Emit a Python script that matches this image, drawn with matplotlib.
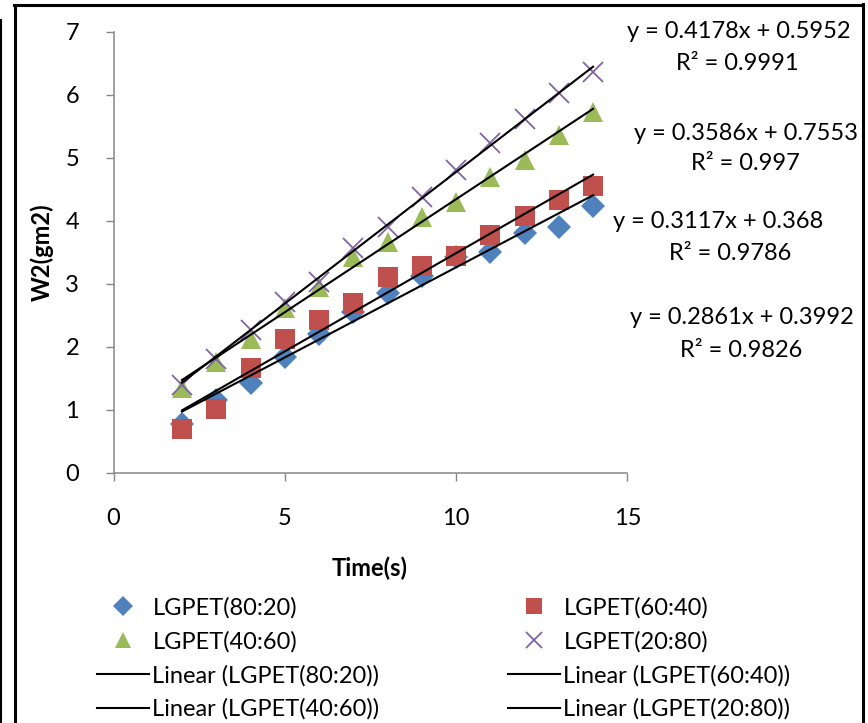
import numpy as np
import matplotlib
matplotlib.use("Agg")
import matplotlib.pyplot as plt
from matplotlib.lines import Line2D

plt.rcParams['font.family'] = ['Lato', 'DejaVu Sans']

# ---- data ----
time_s = [2, 3, 4, 5, 6, 7, 8, 9, 10, 11, 12, 13, 14]
lgpet_80_20 = [0.78, 1.15, 1.42, 1.84, 2.20, 2.55, 2.85, 3.13, 3.43, 3.50, 3.81, 3.90, 4.23]
lgpet_60_40 = [0.69, 1.02, 1.67, 2.13, 2.42, 2.69, 3.11, 3.28, 3.44, 3.77, 4.07, 4.33, 4.55]
lgpet_40_60 = [1.35, 1.76, 2.13, 2.61, 2.95, 3.43, 3.66, 4.06, 4.30, 4.70, 4.96, 5.36, 5.73]
lgpet_20_80 = [1.39, 1.81, 2.26, 2.71, 3.03, 3.56, 3.90, 4.38, 4.80, 5.23, 5.62, 6.02, 6.36]

series_names = ["LGPET(80:20)", "LGPET(60:40)", "LGPET(40:60)", "LGPET(20:80)"]
slopes = [0.2861, 0.3117, 0.3586, 0.4178]
intercepts = [0.3992, 0.368, 0.7553, 0.5952]
r_squared = ["0.9826", "0.9786", "0.997", "0.9991"]
x_ticks = [0, 5, 10, 15]
y_ticks = [0, 1, 2, 3, 4, 5, 6, 7]

W, H = 868, 723
fig = plt.figure(figsize=(W / 100, H / 100), dpi=100)

def fx(px):
    return px / W

def fy(py):
    return 1 - py / H

ax_l, ax_r, ax_t, ax_b = 113.5, 627.3, 31.7, 472.8
ax = fig.add_axes([fx(ax_l), fy(ax_b), fx(ax_r) - fx(ax_l), fy(ax_t) - fy(ax_b)])
ax.set_xlim(0, 15)
ax.set_ylim(0, 7)
ax.set_xticks(x_ticks)
ax.set_yticks(y_ticks)
for s in ['top', 'right']:
    ax.spines[s].set_visible(False)
gray = '#878787'
for s in ['left', 'bottom']:
    ax.spines[s].set_color(gray)
    ax.spines[s].set_linewidth(1.1)
ax.tick_params(axis='both', colors=gray, length=5.8, width=1.0, labelsize=17, labelcolor='black')
ax.tick_params(axis='y', pad=19)
ax.tick_params(axis='x', pad=19.5)

colors = ['#4F81BD', '#C0504D', '#9BBB59', '#8064A2']
markers = ['D', 's', '^', 'x']
msizes = [12.5, 14, 14, 14.5]
data = [lgpet_80_20, lgpet_60_40, lgpet_40_60, lgpet_20_80]

handles_pts = []
for name, y, c, m, ms in zip(series_names, data, colors, markers, msizes):
    if m == 'x':
        h, = ax.plot(time_s, y, linestyle='none', marker=m, markersize=ms, color=c,
                     markeredgewidth=1.3, clip_on=False, label=name, zorder=3)
    else:
        h, = ax.plot(time_s, y, linestyle='none', marker=m, markersize=ms, color=c,
                     markeredgewidth=0, clip_on=False, label=name, zorder=3)
    handles_pts.append(h)

handles_lin = []
xs = np.array([time_s[0], time_s[-1]], dtype=float)
for name, a, b in zip(series_names, slopes, intercepts):
    h, = ax.plot(xs, a * xs + b, color='black', linewidth=1.5, zorder=4,
                 label=f"Linear ({name})")
    handles_lin.append(h)

# axis titles
fig.text(fx(42), fy(252), "W2(gm2)", rotation=90, ha='center', va='center',
         fontsize=17, fontweight='bold')
fig.text(fx(370), fy(568), "Time(s)", ha='center', va='center',
         fontsize=17, fontweight='bold')

# trendline equations
eq_pos = [(742, 318, 741, 350), (718, 221, 730, 253), (746, 133, 745, 164), (739, 31, 737, 63)]
for a, b, r2, (ex, ey, rx, ry) in zip(slopes, intercepts, r_squared, eq_pos):
    fig.text(fx(ex), fy(ey), f"y = {a:g}x + {b:g}", ha='center', va='center', fontsize=17)
    fig.text(fx(rx), fy(ry), f"R\u00b2 = {r2}", ha='center', va='center', fontsize=17)

# legends (two columns)
col1 = [handles_pts[0], handles_pts[2], handles_lin[0], handles_lin[2]]
col2 = [handles_pts[1], handles_pts[3], handles_lin[1], handles_lin[3]]
for hs, x0 in [(col1, 97), (col2, 508)]:
    leg = fig.legend(handles=hs, labels=[h.get_label() for h in hs],
                     loc='upper left', bbox_to_anchor=(fx(x0), fy(597)),
                     frameon=False, fontsize=17, handlelength=2.2, handletextpad=0.15,
                     labelspacing=0.52, borderpad=0, borderaxespad=0, numpoints=1,
                     markerscale=0.8)

# page border lines
fig.add_artist(Line2D([fx(15), fx(15)], [fy(5), fy(723)], color='black', linewidth=2.2))
fig.add_artist(Line2D([fx(14), fx(863)], [fy(5), fy(5)], color='black', linewidth=2.2))
fig.add_artist(Line2D([fx(863), fx(863)], [fy(4), fy(723)], color='black', linewidth=2.2))
fig.add_artist(Line2D([fx(1), fx(1)], [fy(20), fy(723)], color='black', linewidth=1.5))

fig.savefig("out.png", dpi=100)
